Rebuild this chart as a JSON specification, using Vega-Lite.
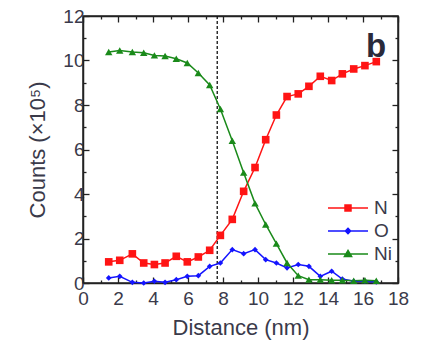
{
  "$schema": "https://vega.github.io/schema/vega-lite/v6.json",
  "width": 315,
  "height": 267,
  "autosize": "none",
  "padding": {"left": 83, "top": 16, "right": 25, "bottom": 62},
  "background": "white",
  "config": {
    "font": "Liberation Sans",
    "view": {"stroke": "#222", "strokeWidth": 1.5},
    "axis": {
      "grid": false,
      "labelFont": "Liberation Sans",
      "labelFontSize": 19,
      "labelColor": "#3a3a4a",
      "titleFont": "Liberation Sans",
      "titleFontSize": 22,
      "titleFontWeight": "normal",
      "titleColor": "#3a3a4a"
    },
    "legend": {"labelFont": "Liberation Sans"}
  },
  "datasets": {
    "profile": [
      {"d": 1.47, "c": 0.95, "el": "N"}, {"d": 2.10, "c": 1.02, "el": "N"}, {"d": 2.82, "c": 1.31, "el": "N"},
      {"d": 3.47, "c": 0.90, "el": "N"}, {"d": 4.08, "c": 0.83, "el": "N"}, {"d": 4.69, "c": 0.90, "el": "N"},
      {"d": 5.33, "c": 1.20, "el": "N"}, {"d": 5.96, "c": 0.95, "el": "N"}, {"d": 6.59, "c": 1.17, "el": "N"},
      {"d": 7.24, "c": 1.47, "el": "N"}, {"d": 7.85, "c": 2.14, "el": "N"}, {"d": 8.53, "c": 2.86, "el": "N"},
      {"d": 9.18, "c": 4.12, "el": "N"}, {"d": 9.83, "c": 5.19, "el": "N"}, {"d": 10.44, "c": 6.44, "el": "N"},
      {"d": 11.05, "c": 7.55, "el": "N"}, {"d": 11.66, "c": 8.38, "el": "N"}, {"d": 12.30, "c": 8.50, "el": "N"},
      {"d": 12.91, "c": 8.84, "el": "N"}, {"d": 13.56, "c": 9.29, "el": "N"}, {"d": 14.21, "c": 9.10, "el": "N"},
      {"d": 14.82, "c": 9.40, "el": "N"}, {"d": 15.47, "c": 9.62, "el": "N"}, {"d": 16.11, "c": 9.77, "el": "N"},
      {"d": 16.76, "c": 9.95, "el": "N"},
      {"d": 1.47, "c": 0.23, "el": "O"}, {"d": 2.10, "c": 0.30, "el": "O"}, {"d": 2.82, "c": 0.03, "el": "O"},
      {"d": 3.47, "c": 0.00, "el": "O"}, {"d": 4.08, "c": 0.08, "el": "O"}, {"d": 4.69, "c": 0.03, "el": "O"},
      {"d": 5.33, "c": 0.15, "el": "O"}, {"d": 5.96, "c": 0.30, "el": "O"}, {"d": 6.59, "c": 0.33, "el": "O"},
      {"d": 7.24, "c": 0.75, "el": "O"}, {"d": 7.85, "c": 0.90, "el": "O"}, {"d": 8.53, "c": 1.50, "el": "O"},
      {"d": 9.18, "c": 1.32, "el": "O"}, {"d": 9.83, "c": 1.50, "el": "O"}, {"d": 10.44, "c": 1.05, "el": "O"},
      {"d": 11.05, "c": 0.90, "el": "O"}, {"d": 11.66, "c": 0.68, "el": "O"}, {"d": 12.30, "c": 0.83, "el": "O"},
      {"d": 12.91, "c": 0.75, "el": "O"}, {"d": 13.56, "c": 0.30, "el": "O"}, {"d": 14.21, "c": 0.53, "el": "O"},
      {"d": 14.82, "c": 0.18, "el": "O"}, {"d": 15.47, "c": 0.08, "el": "O"}, {"d": 16.11, "c": 0.08, "el": "O"},
      {"d": 16.76, "c": 0.05, "el": "O"},
      {"d": 1.47, "c": 10.38, "el": "Ni"}, {"d": 2.10, "c": 10.45, "el": "Ni"}, {"d": 2.82, "c": 10.38, "el": "Ni"},
      {"d": 3.47, "c": 10.35, "el": "Ni"}, {"d": 4.08, "c": 10.23, "el": "Ni"}, {"d": 4.69, "c": 10.20, "el": "Ni"},
      {"d": 5.33, "c": 10.08, "el": "Ni"}, {"d": 5.96, "c": 9.89, "el": "Ni"}, {"d": 6.59, "c": 9.44, "el": "Ni"},
      {"d": 7.24, "c": 8.90, "el": "Ni"}, {"d": 7.85, "c": 7.82, "el": "Ni"}, {"d": 8.53, "c": 6.39, "el": "Ni"},
      {"d": 9.18, "c": 4.96, "el": "Ni"}, {"d": 9.83, "c": 3.58, "el": "Ni"}, {"d": 10.44, "c": 2.63, "el": "Ni"},
      {"d": 11.05, "c": 1.77, "el": "Ni"}, {"d": 11.66, "c": 0.90, "el": "Ni"}, {"d": 12.30, "c": 0.33, "el": "Ni"},
      {"d": 12.91, "c": 0.15, "el": "Ni"}, {"d": 13.56, "c": 0.15, "el": "Ni"}, {"d": 14.21, "c": 0.12, "el": "Ni"},
      {"d": 14.82, "c": 0.12, "el": "Ni"}, {"d": 15.47, "c": 0.10, "el": "Ni"}, {"d": 16.11, "c": 0.12, "el": "Ni"},
      {"d": 16.76, "c": 0.10, "el": "Ni"}
    ],
    "boundary": [{"d": 7.67}],
    "tag": [{"d": 16.75, "c": 10.6, "label": "b"}]
  },
  "layer": [
    {
      "data": {"name": "boundary"},
      "mark": {"type": "rule", "color": "#111", "strokeWidth": 1.3, "strokeDash": [3, 2]},
      "encoding": {
        "x": {"field": "d", "type": "quantitative", "scale": {"domain": [0, 18], "nice": false}, "axis": null}
      }
    },
    {
      "data": {"name": "profile"},
      "mark": {"type": "line", "strokeWidth": 1.5},
      "encoding": {
        "x": {
          "field": "d", "type": "quantitative", "scale": {"domain": [0, 18], "nice": false},
          "axis": {"orient": "bottom", "title": "Distance (nm)", "tickCount": 18,
                   "domain": true, "domainColor": "#222", "domainWidth": 1.5,
                   "ticks": true, "tickSize": {"condition": {"test": "datum.value % 2 === 0", "value": -6}, "value": -3}, "tickColor": "#222", "tickWidth": 1.3,
                   "labelExpr": "datum.value % 2 === 0 ? datum.label : ''", "labelPadding": 12, "titlePadding": 9, "labelFlush": false}
        },
        "y": {
          "field": "c", "type": "quantitative", "scale": {"domain": [0, 12], "nice": false},
          "axis": {"orient": "left", "title": "Counts (×10⁵)", "tickCount": 12,
                   "domain": true, "domainColor": "#222", "domainWidth": 1.5,
                   "ticks": true, "tickSize": {"condition": {"test": "datum.value % 2 === 0", "value": -6}, "value": -3}, "tickColor": "#222", "tickWidth": 1.3,
                   "labelExpr": "datum.value % 2 === 0 ? datum.label : ''", "labelPadding": 5, "titlePadding": 13, "labelFlush": false}
        },
        "color": {
          "field": "el", "type": "nominal",
          "scale": {"domain": ["N", "O", "Ni"], "range": ["#ff1414", "#1414ff", "#1a8a1a"]},
          "legend": {
            "orient": "none", "legendX": 254, "legendY": 181, "title": null,
            "symbolSize": 400, "symbolStrokeWidth": 1.5, "labelFontSize": 19, "labelColor": "#3a3a4a",
            "labelOffset": 15, "rowPadding": 2,
            "symbolType": "M-2,0H2M-0.3,-0.3H0.3V0.3H-0.3Z",
            "encode": {
              "symbols": {
                "update": {
                  "shape": {"signal": "datum.value === 'N' ? 'M-2,0H2M-0.3,-0.3H0.3V0.3H-0.3Z' : datum.value === 'O' ? 'M-2,0H2M0,-0.26L0.26,0L0,0.26L-0.26,0Z' : 'M-2,0H2M0,-0.36L0.36,0.26H-0.36Z'"},
                  "fill": {"scale": "color", "field": "value"},
                  "stroke": {"scale": "color", "field": "value"},
                  "strokeWidth": {"value": 1.5}
                }
              }
            }
          }
        }
      }
    },
    {
      "data": {"name": "profile"},
      "transform": [{"filter": "datum.el === 'N'"}],
      "mark": {"type": "point", "shape": "square", "filled": true, "opacity": 1, "size": 58},
      "encoding": {
        "x": {"field": "d", "type": "quantitative", "axis": null},
        "y": {"field": "c", "type": "quantitative", "axis": null},
        "color": {"field": "el", "type": "nominal", "legend": null}
      }
    },
    {
      "data": {"name": "profile"},
      "transform": [{"filter": "datum.el === 'O'"}],
      "mark": {"type": "point", "shape": "diamond", "filled": true, "opacity": 1, "size": 32},
      "encoding": {
        "x": {"field": "d", "type": "quantitative", "axis": null},
        "y": {"field": "c", "type": "quantitative", "axis": null},
        "color": {"field": "el", "type": "nominal", "legend": null}
      }
    },
    {
      "data": {"name": "profile"},
      "transform": [{"filter": "datum.el === 'Ni'"}],
      "mark": {"type": "point", "shape": "triangle-up", "filled": true, "opacity": 1, "size": 55},
      "encoding": {
        "x": {"field": "d", "type": "quantitative", "axis": null},
        "y": {"field": "c", "type": "quantitative", "axis": null},
        "color": {"field": "el", "type": "nominal", "legend": null}
      }
    },
    {
      "data": {"name": "tag"},
      "mark": {"type": "text", "font": "Liberation Sans", "fontWeight": "bold", "fontSize": 33, "color": "#2a2a3a", "baseline": "middle", "align": "center"},
      "encoding": {
        "x": {"field": "d", "type": "quantitative",
              "axis": {"orient": "top", "title": null, "labels": false, "tickCount": 18, "domain": true, "domainColor": "#222", "domainWidth": 1.5,
                       "ticks": true, "tickSize": {"condition": {"test": "datum.value % 2 === 0", "value": -6}, "value": -3}, "tickColor": "#222", "tickWidth": 1.3}},
        "y": {"field": "c", "type": "quantitative",
              "axis": {"orient": "right", "title": null, "labels": false, "tickCount": 12, "domain": true, "domainColor": "#222", "domainWidth": 1.5,
                       "ticks": true, "tickSize": {"condition": {"test": "datum.value % 2 === 0", "value": -6}, "value": -3}, "tickColor": "#222", "tickWidth": 1.3}},
        "text": {"field": "label"}
      }
    }
  ],
  "resolve": {"axis": {"x": "independent", "y": "independent"}}
}
